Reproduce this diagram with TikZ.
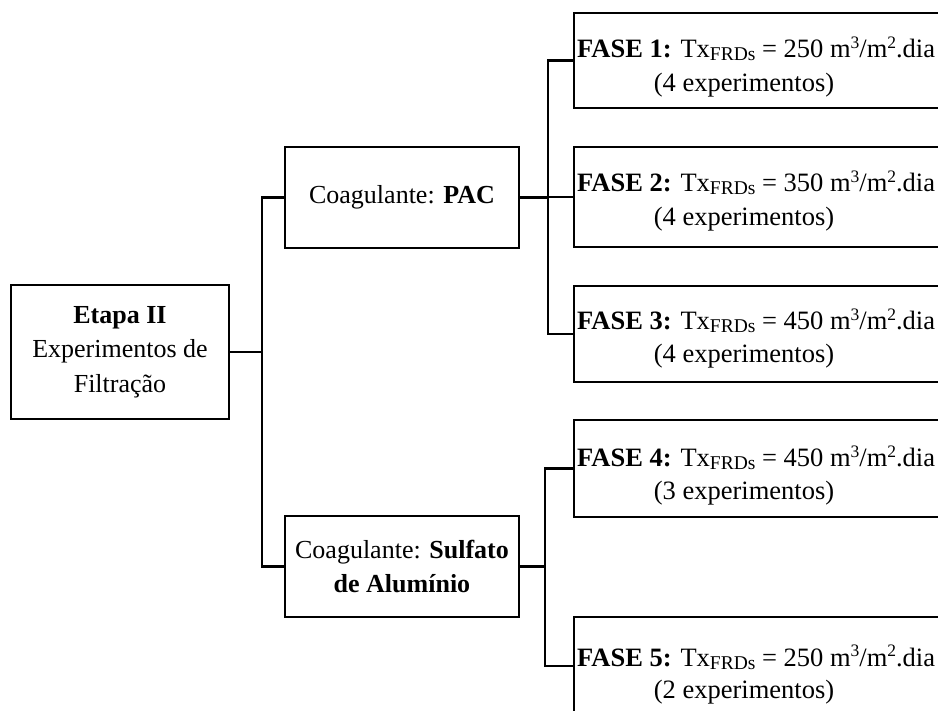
\documentclass[tikz,border=0pt]{standalone}
\usepackage{fontspec}
\setmainfont{Liberation Serif}
\newcommand{\mysubs}[1]{\raisebox{-3pt}{\fontsize{19.5}{19.5}\selectfont #1}}
\newcommand{\mysups}[1]{\raisebox{9.5pt}{\fontsize{17.5}{17.5}\selectfont #1}}
\newcommand{\txfrds}{Tx\mysubs{FRDs}}
\begin{document}
\begin{tikzpicture}[x=1pt,y=-1pt,
  box/.style={draw, line width=2.4pt, inner sep=0pt, align=center,
    font=\fontsize{26}{34.5}\selectfont},
  fbox/.style={draw, line width=2.4pt, inner sep=0pt, minimum width=386pt},
  txt/.style={inner sep=0pt, font=\fontsize{26.5}{34.5}\selectfont},
  conn/.style={line width=2.4pt}]
\clip (0,0) rectangle (938,711);
\fill[white] (0,0) rectangle (938,711);
% left box
\node[box, minimum width=218pt, minimum height=134pt] (etapa) at (120,352)
  {\textbf{Etapa II}\\Experimentos de\\Filtração};
% coagulant boxes
\node[box, minimum width=234pt, minimum height=101pt] (pac) at (402,197.5)
  {Coagulante: \textbf{PAC}};
\node[box, minimum width=234pt, minimum height=101pt] (sul) at (402,566.5)
  {Coagulante: \textbf{Sulfato}\\\textbf{de Alumínio}};
% phase boxes
\node[fbox, minimum height=95pt] (f1) at (767,60.5) {};
\node[fbox, minimum height=100pt] (f2) at (767,197) {};
\node[fbox, minimum height=96pt] (f3) at (767,334) {};
\node[fbox, minimum height=97pt] (f4) at (767,468.5) {};
\node[fbox, minimum height=98pt] (f5) at (767,666) {};
% phase texts
\node[txt, anchor=base west] (f1a) at (577,58) {\textbf{FASE 1:} \txfrds{} = 250 m\mysups{3}/m\mysups{2}.dia};
\node[txt, anchor=base] (f1b) at (744,92) {(4 experimentos)};
\node[txt, anchor=base west] (f2a) at (577,192) {\textbf{FASE 2:} \txfrds{} = 350 m\mysups{3}/m\mysups{2}.dia};
\node[txt, anchor=base] (f2b) at (744,226) {(4 experimentos)};
\node[txt, anchor=base west] (f3a) at (577,330) {\textbf{FASE 3:} \txfrds{} = 450 m\mysups{3}/m\mysups{2}.dia};
\node[txt, anchor=base] (f3b) at (744,363) {(4 experimentos)};
\node[txt, anchor=base west] (f4a) at (577,467) {\textbf{FASE 4:} \txfrds{} = 450 m\mysups{3}/m\mysups{2}.dia};
\node[txt, anchor=base] (f4b) at (744,500) {(3 experimentos)};
\node[txt, anchor=base west] (f5a) at (577,666) {\textbf{FASE 5:} \txfrds{} = 250 m\mysups{3}/m\mysups{2}.dia};
\node[txt, anchor=base] (f5b) at (744,698) {(2 experimentos)};
% junction x positions
\coordinate (ja) at (262,0);
\coordinate (jb) at (548,0);
\coordinate (jc) at (545,0);
% connectors
\draw[conn] (etapa.east) -- (etapa.east -| ja);
\draw[conn] (pac.west) -| (ja |- sul.west) -- (sul.west);
\draw[conn] (pac.east) -- (pac.east -| jb);
\draw[conn] (f1.west) -| (jb |- f3.west) -- (f3.west);
\draw[conn] (f2.west) -- (f2.west -| jb);
\draw[conn] (sul.east) -- (sul.east -| jc);
\draw[conn] (f4.west) -| (jc |- f5.west) -- (f5.west);
\end{tikzpicture}
\end{document}
